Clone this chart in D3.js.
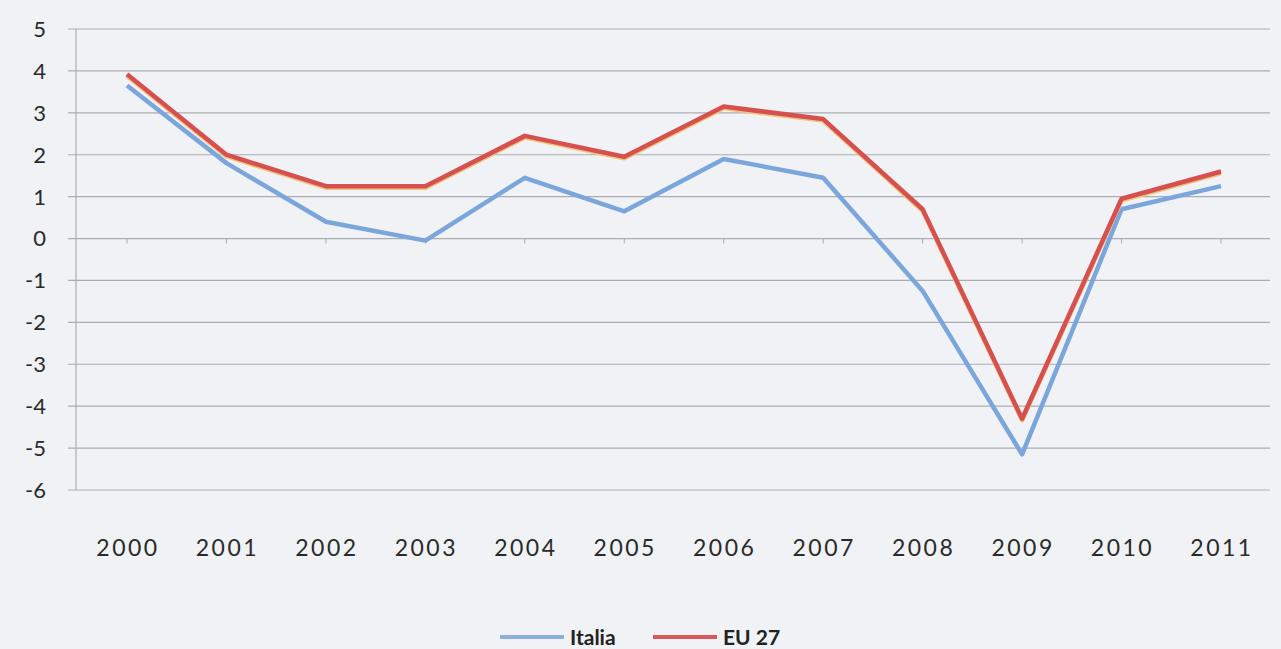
<!DOCTYPE html>
<html><head><meta charset="utf-8">
<script src="https://cdn.jsdelivr.net/npm/d3@7"></script>
<style>html,body{margin:0;padding:0;background:#f0f2f6;}svg{display:block;}</style>
</head><body>
<svg id="c" width="1281" height="649"></svg>
<script>
const years = ["2000","2001","2002","2003","2004","2005","2006","2007","2008","2009","2010","2011"];
const italia = [3.65, 1.8, 0.4, -0.05, 1.45, 0.65, 1.9, 1.45, -1.25, -5.15, 0.7, 1.25];
const eu27 = [3.92, 2.0, 1.25, 1.25, 2.45, 1.95, 3.15, 2.85, 0.7, -4.3, 0.95, 1.6];
const yTicks = [5,4,3,2,1,0,-1,-2,-3,-4,-5,-6];
const seriesNames = ["Italia","EU 27"];

const svg = d3.select("#c");
const font = "Lato, 'Open Sans', sans-serif";
const x = d3.scalePoint().domain(years).range([127,1221]);
const y = d3.scaleLinear().domain([-6,5]).range([490,29]);
const left = 76, right = 1270;

svg.append("g").selectAll("line").data(yTicks).join("line")
  .attr("x1", left-8).attr("x2", right)
  .attr("y1", d=>y(d)).attr("y2", d=>y(d))
  .attr("stroke", "#aaadb2").attr("stroke-width", 1.2);

svg.append("line").attr("x1", left).attr("x2", left).attr("y1", y(5)).attr("y2", y(-6))
  .attr("stroke", "#aaadb2").attr("stroke-width", 1.2);

svg.append("g").selectAll("line").data(years).join("line")
  .attr("x1", d=>x(d)).attr("x2", d=>x(d)).attr("y1", y(0)).attr("y2", y(0)+5)
  .attr("stroke", "#aaadb2").attr("stroke-width", 1);

svg.append("g").selectAll("text").data(yTicks).join("text")
  .attr("x", 46).attr("y", d=>y(d)).attr("dy", "0.36em")
  .attr("text-anchor", "end").attr("font-family", font).attr("font-size", 22)
  .attr("fill", "#2a2a2a").text(d=>d);

svg.append("g").selectAll("text").data(years).join("text")
  .attr("x", d=>x(d)+1).attr("y", 548).attr("dy", "0.36em")
  .attr("text-anchor", "middle").attr("font-family", font).attr("font-size", 23)
  .attr("fill", "#2a2a2a").attr("letter-spacing", 2.5).text(d=>d);

const line = d3.line().x((d,i)=>x(years[i])).y(d=>y(d));

svg.append("path").datum(italia).attr("d", line).attr("fill","none")
  .attr("stroke", "#7ba6dc").attr("stroke-width", 4.5).attr("stroke-linejoin","round");
svg.append("path").datum(eu27).attr("d", line).attr("fill","none")
  .attr("transform","translate(0,1.5)")
  .attr("stroke", "#f1c27a").attr("stroke-width", 4.5).attr("stroke-linejoin","round");
svg.append("path").datum(eu27).attr("d", line).attr("fill","none")
  .attr("stroke", "#d65050").attr("stroke-width", 4.5).attr("stroke-linejoin","round");

const leg = [{name: seriesNames[0], color:"#8aaede", x0:500},{name: seriesNames[1], color:"#d65a5a", x0:653}];
const lg = svg.append("g").selectAll("g").data(leg).join("g");
lg.append("line").attr("x1", d=>d.x0).attr("x2", d=>d.x0+64).attr("y1",637).attr("y2",637)
  .attr("stroke", d=>d.color).attr("stroke-width", 4);
lg.append("text").attr("x", d=>d.x0+70).attr("y", 637).attr("dy","0.36em")
  .attr("font-family", font).attr("font-weight", "bold").attr("font-size", 21).attr("fill","#222").text(d=>d.name);
</script>
</body></html>
